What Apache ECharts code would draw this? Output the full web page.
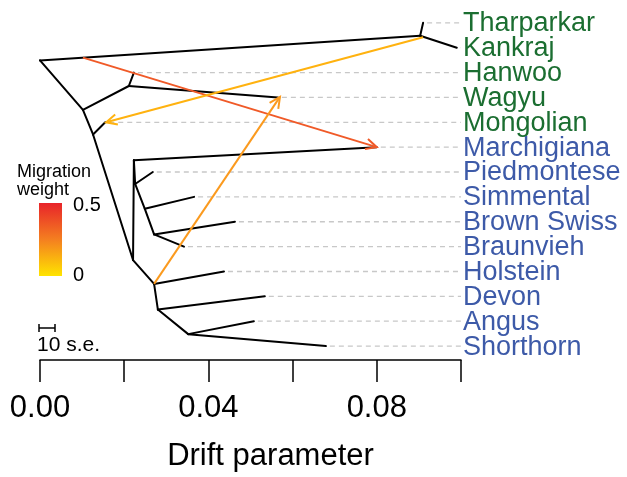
<!DOCTYPE html>
<html>
<head>
<meta charset="utf-8">
<script src="https://cdn.jsdelivr.net/npm/echarts@6/dist/echarts.min.js"></script>
<style>html,body{margin:0;padding:0;background:#fff}#c{width:627px;height:477px}</style>
</head>
<body>
<div id="c"></div>
<script>
// ---- data (drift parameter on x, leaf row on y) ----
const leafNames = ['Tharparkar','Kankraj','Hanwoo','Wagyu','Mongolian','Marchigiana','Piedmontese','Simmental','Brown Swiss','Braunvieh','Holstein','Devon','Angus','Shorthorn'];
const leafGroup = ['Asia','Asia','Asia','Asia','Asia','Europe','Europe','Europe','Europe','Europe','Europe','Europe','Europe','Europe'];
const leafDrift = [0.0910,0.0990,0.0223,0.0565,0.0155,0.0800,0.0268,0.0366,0.0463,0.0342,0.0437,0.0534,0.0508,0.0679];
const leafRow   = [0,1,2,3,4,5,6,7,8,9,10,11,12,13];

const innerNames = ['R','N1','N2','N3','N4','N5','N6','N7','N8','N9','N10','N11','N12'];
const innerDrift = [0.0000,0.0903,0.0102,0.0211,0.0126,0.0221,0.0223,0.0226,0.0249,0.0271,0.0271,0.0280,0.0352];
const innerRow   = [1.51,0.52,3.50,2.54,4.49,9.54,5.53,6.48,7.48,8.51,10.50,11.53,12.52];

const treeEdges = [
  ['R','N1'],['N1','Tharparkar'],['N1','Kankraj'],
  ['R','N2'],['N2','N3'],['N3','Hanwoo'],['N3','Wagyu'],
  ['N2','N4'],['N4','Mongolian'],['N4','N5'],
  ['N5','N6'],['N6','Marchigiana'],['N6','N7'],['N7','Piedmontese'],['N7','N8'],
  ['N8','Simmental'],['N8','N9'],['N9','Brown Swiss'],['N9','Braunvieh'],
  ['N5','N10'],['N10','Holstein'],['N10','N11'],['N11','Devon'],['N11','N12'],
  ['N12','Angus'],['N12','Shorthorn']
];

const migFromDrift = [0.0102,0.0910,0.0271];
const migFromRow   = [1.40,0.58,10.50];
const migToDrift   = [0.0800,0.0157,0.0570];
const migToRow     = [5.0,4.0,2.98];
const migWeight    = [0.40,0.12,0.22];
const migColor     = ['#f05a28','#ffb20f','#fb9a1e'];

const driftMin = 0, driftMax = 0.1, driftStep = 0.02;
const legendTicks = ['0.5','0'];

// ---- build ----
const pos = {};
leafNames.forEach((n,i)=>pos[n]=[leafDrift[i],leafRow[i]]);
innerNames.forEach((n,i)=>pos[n]=[innerDrift[i],innerRow[i]]);
const edgeData = treeEdges.map(e=>[pos[e[0]][0],pos[e[0]][1],pos[e[1]][0],pos[e[1]][1]]);
const dashData = leafNames.map((n,i)=>[leafDrift[i],leafRow[i]]);
const labelData = leafNames.map((n,i)=>({value:[driftMax,leafRow[i]],name:n,group:leafGroup[i]}));
const migData = migWeight.map((w,i)=>({value:[migFromDrift[i],migFromRow[i],migToDrift[i],migToRow[i],w],color:migColor[i]}));
const groupColor = {Asia:'#1b6e31', Europe:'#3d5aa8'};
const FONT = 'Liberation Sans, Arial, sans-serif';

const chart = echarts.init(document.getElementById('c'));
chart.setOption({
  animation:false,
  backgroundColor:'#fff',
  grid:{left:40,right:166,top:10.4,bottom:113,containLabel:false},
  xAxis:{type:'value',min:driftMin,max:driftMax,interval:driftStep,
    axisLine:{show:true,onZero:false,lineStyle:{color:'#000',width:1.5}},
    axisTick:{show:true,length:22,lineStyle:{color:'#000',width:1.5}},
    splitLine:{show:false},
    axisLabel:{color:'#000',fontSize:31,fontFamily:FONT,margin:33,
      formatter:v=>(Math.round(v*100)%4===0?v.toFixed(2):'')},
    name:'Drift parameter',nameLocation:'middle',nameGap:81,
    nameTextStyle:{color:'#000',fontSize:31,fontFamily:FONT,padding:[0,0,0,40]}},
  yAxis:{type:'value',inverse:true,min:-0.5,max:13.56,show:false},
  series:[
    {type:'custom',data:dashData,silent:true,z:1,
     renderItem:(p,api)=>{const a=api.coord([api.value(0),api.value(1)]);const b=api.coord([driftMax,api.value(1)]);
       return {type:'line',shape:{x1:a[0]+4,y1:a[1],x2:b[0],y2:b[1]},style:{stroke:'#c8c8c8',lineWidth:1.3,lineDash:[5,4]}};}},
    {type:'custom',data:edgeData,silent:true,z:2,
     renderItem:(p,api)=>{const a=api.coord([api.value(0),api.value(1)]);const b=api.coord([api.value(2),api.value(3)]);
       return {type:'line',shape:{x1:a[0],y1:a[1],x2:b[0],y2:b[1]},style:{stroke:'#000',lineWidth:2,lineCap:'round'}};}},
    {type:'custom',data:migData,silent:true,z:3,
     renderItem:(p,api)=>{const a=api.coord([api.value(0),api.value(1)]);const b=api.coord([api.value(2),api.value(3)]);
       const col=migData[p.dataIndex].color;const ang=Math.atan2(b[1]-a[1],b[0]-a[0]);const L=12,h=0.45;
       const p1=[b[0]-L*Math.cos(ang-h),b[1]-L*Math.sin(ang-h)],p2=[b[0]-L*Math.cos(ang+h),b[1]-L*Math.sin(ang+h)];
       return {type:'group',children:[
         {type:'line',shape:{x1:a[0],y1:a[1],x2:b[0],y2:b[1]},style:{stroke:col,lineWidth:2}},
         {type:'polyline',shape:{points:[p1,b,p2]},style:{stroke:col,lineWidth:2,fill:null}}]};}},
    {type:'custom',data:labelData,silent:true,z:4,
     renderItem:(p,api)=>{const a=api.coord([api.value(0),api.value(1)]);const d=labelData[p.dataIndex];
       return {type:'text',x:a[0]+2,y:a[1]+1,style:{text:d.name,fill:groupColor[d.group],font:'27px '+FONT,textAlign:'left',textVerticalAlign:'middle'}};}}
  ],
  graphic:[
    {type:'text',left:17,top:163,style:{text:'Migration\nweight',font:'18px '+FONT,fill:'#000',lineHeight:18}},
    {type:'rect',shape:{x:39,y:203,width:23,height:73},style:{fill:new echarts.graphic.LinearGradient(0,0,0,1,[{offset:0,color:'#e8242a'},{offset:0.5,color:'#f47f20'},{offset:1,color:'#ffe400'}])}},
    {type:'text',x:73,y:205,style:{text:legendTicks[0],font:'20px '+FONT,fill:'#000',textVerticalAlign:'middle'}},
    {type:'text',x:73,y:275,style:{text:legendTicks[1],font:'20px '+FONT,fill:'#000',textVerticalAlign:'middle'}},
    {type:'polyline',shape:{points:[[39,324],[39,332]]},style:{stroke:'#000',lineWidth:1.5}},
    {type:'polyline',shape:{points:[[39,328],[55,328]]},style:{stroke:'#000',lineWidth:1.5}},
    {type:'polyline',shape:{points:[[55,324],[55,332]]},style:{stroke:'#000',lineWidth:1.5}},
    {type:'text',x:37,y:345,style:{text:'10 s.e.',font:'21px '+FONT,fill:'#000',textVerticalAlign:'middle'}}
  ]
});
</script>
</body>
</html>
